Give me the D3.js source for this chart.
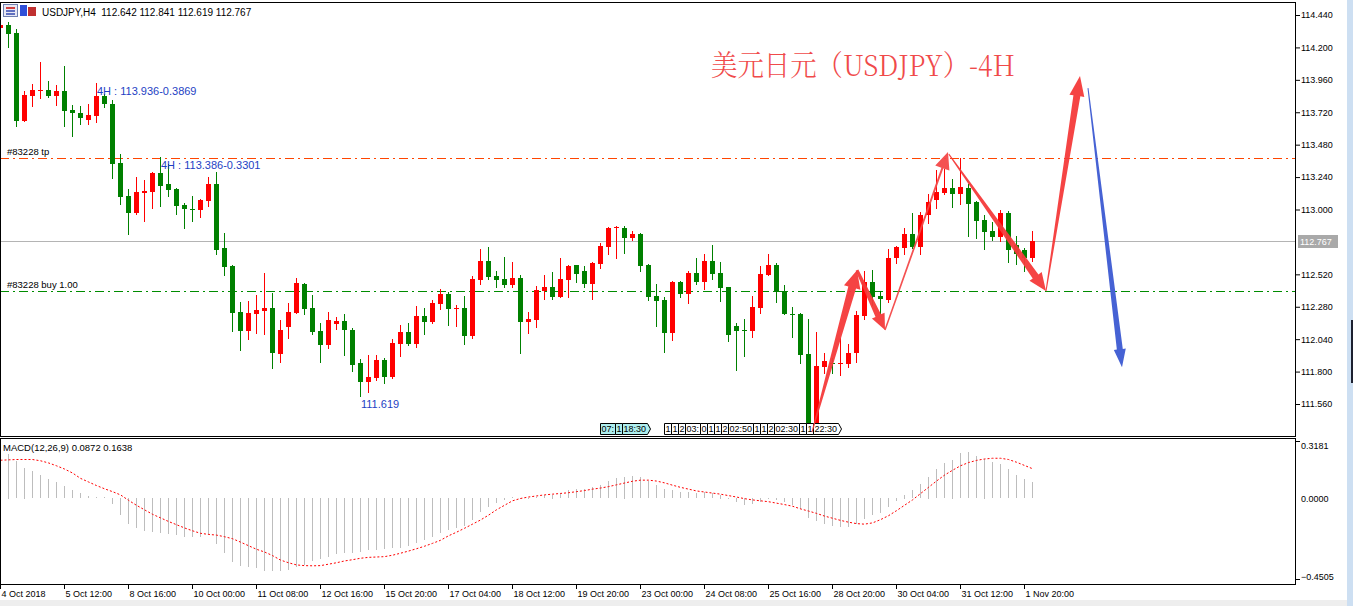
<!DOCTYPE html>
<html>
<head>
<meta charset="utf-8">
<script src="https://cdn.jsdelivr.net/npm/d3@7"></script>
<style>
body { margin: 0; background: #fff; overflow: hidden; }
svg { display: block; }
text { font-family: "Liberation Sans", Arial, sans-serif; }
</style>
</head>
<body>
<div class="canvas"></div>
<script>
// DATA ------------------------------------------------------------------------
// USDJPY H4 candles, one entry per bar (index 0 = left edge)
const opens = [114.346,114.366,114.304,113.655,113.842,113.875,113.884,113.842,113.877,113.734,113.714,113.665,113.694,113.840,113.781,113.344,113.097,112.973,113.124,113.131,
  113.270,113.188,113.154,113.033,113.005,113.000,113.065,113.188,112.712,112.581,112.240,112.102,112.230,112.250,112.270,111.931,112.131,112.235,112.450,112.270,
  112.099,111.996,112.149,112.173,112.109,111.862,111.724,111.754,111.884,111.761,112.005,112.092,112.001,112.210,112.168,112.302,112.373,112.262,112.270,112.060,
  112.477,112.618,112.507,112.484,112.442,112.492,112.168,112.183,112.398,112.425,112.351,112.477,112.588,112.544,112.450,112.598,112.724,112.860,112.862,112.791,
  112.818,112.588,112.359,112.329,112.087,112.462,112.376,112.529,112.465,112.618,112.529,112.425,112.136,112.109,112.102,112.270,112.517,112.588,112.400,112.230,
  112.225,111.929,111.383,111.833,111.865,111.857,111.855,111.939,112.213,112.462,112.359,112.329,112.638,112.717,112.815,112.719,112.956,113.070,113.124,113.156,
  113.114,113.161,113.055,112.922,112.840,112.798,112.973,112.736,112.699,112.642];
const highs = [114.390,114.386,114.334,113.877,113.930,114.094,113.954,113.921,114.065,113.773,113.768,113.778,113.936,113.857,113.808,113.408,113.151,113.238,113.220,113.280,
  113.386,113.334,113.159,113.045,113.099,113.075,113.242,113.275,112.825,112.588,112.312,112.324,112.366,112.531,112.383,112.183,112.309,112.492,112.455,112.366,
  112.163,112.242,112.205,112.225,112.119,111.894,111.921,111.921,111.902,112.040,112.144,112.158,112.284,112.270,112.329,112.410,112.391,112.292,112.358,112.507,
  112.707,112.721,112.544,112.650,112.610,112.514,112.242,112.433,112.514,112.536,112.640,112.588,112.592,112.581,112.610,112.751,112.870,112.880,112.880,112.840,
  112.825,112.598,112.450,112.351,112.472,112.472,112.544,112.640,112.672,112.736,112.610,112.428,112.161,112.186,112.361,112.581,112.672,112.603,112.440,112.277,
  112.233,112.188,112.094,111.939,111.897,112.045,112.001,112.247,112.544,112.549,112.393,112.707,112.731,112.865,112.971,112.983,113.114,113.292,113.299,113.225,
  113.378,113.186,113.062,112.959,112.907,112.993,112.986,112.805,112.717,112.841];
const lows = [114.330,114.205,113.620,113.655,113.768,113.828,113.835,113.773,113.620,113.546,113.635,113.635,113.645,113.761,113.235,113.042,112.815,112.963,112.917,113.013,
  113.028,113.102,112.968,112.860,112.917,112.946,113.028,112.672,112.517,112.104,111.963,112.038,112.082,112.075,111.823,111.872,112.045,112.235,112.228,112.075,
  111.872,111.976,112.112,111.926,111.808,111.619,111.650,111.739,111.717,111.754,111.917,111.996,111.981,112.079,112.161,112.265,112.146,112.139,112.005,112.050,
  112.445,112.489,112.427,112.427,112.427,111.939,112.089,112.131,112.339,112.334,112.351,112.351,112.462,112.427,112.339,112.568,112.672,112.642,112.679,112.776,
  112.546,112.329,112.139,111.946,112.035,112.354,112.309,112.450,112.410,112.489,112.324,112.028,111.813,111.917,112.057,112.235,112.517,112.317,112.228,112.057,
  111.860,111.378,111.378,111.793,111.793,111.773,111.835,111.872,112.188,112.292,112.235,112.317,112.605,112.667,112.717,112.672,112.897,113.013,113.114,113.018,
  113.040,112.805,112.791,112.709,112.773,112.768,112.610,112.593,112.546,112.619];
const closes = [114.366,114.302,113.655,113.847,113.882,113.884,113.842,113.877,113.729,113.717,113.680,113.699,113.840,113.778,113.339,113.094,112.976,113.129,113.136,113.270,
  113.176,113.146,113.028,113.005,112.993,113.067,113.188,112.702,112.576,112.235,112.102,112.233,112.257,112.270,111.939,112.109,112.240,112.457,112.267,112.094,
  111.996,112.181,112.173,112.107,111.852,111.724,111.759,111.884,111.761,112.010,112.092,112.005,112.210,112.168,112.307,112.371,112.265,112.272,112.065,112.484,
  112.618,112.499,112.479,112.442,112.492,112.168,112.188,112.403,112.425,112.351,112.484,112.581,112.524,112.450,112.603,112.731,112.862,112.870,112.791,112.818,
  112.583,112.354,112.324,112.087,112.465,112.376,112.529,112.465,112.618,112.524,112.420,112.070,112.102,112.104,112.277,112.524,112.588,112.391,112.228,112.220,
  111.921,111.398,111.840,111.877,111.855,111.865,111.941,112.218,112.465,112.354,112.334,112.638,112.721,112.815,112.719,112.956,113.057,113.126,113.156,113.117,
  113.163,113.042,112.917,112.835,112.798,112.973,112.699,112.667,112.638,112.767];

// MACD(12,26,9): main line (histogram) and signal line per bar
const macdMain = [0.265,0.248,0.206,0.170,0.150,0.128,0.106,0.089,0.067,0.044,0.028,0.011,0.007,0.004,-0.035,-0.094,-0.144,-0.169,-0.183,-0.191,
  -0.193,-0.200,-0.206,-0.215,-0.219,-0.217,-0.206,-0.254,-0.304,-0.354,-0.376,-0.383,-0.391,-0.409,-0.409,-0.409,-0.400,-0.385,-0.372,-0.350,
  -0.340,-0.330,-0.313,-0.307,-0.305,-0.300,-0.290,-0.288,-0.283,-0.280,-0.280,-0.270,-0.250,-0.235,-0.215,-0.195,-0.180,-0.165,-0.155,-0.120,
  -0.080,-0.050,-0.030,-0.010,0.005,0.000,-0.005,0.005,0.015,0.020,0.030,0.045,0.050,0.052,0.060,0.075,0.095,0.110,0.120,0.125,
  0.115,0.095,0.075,0.050,0.045,0.035,0.035,0.030,0.035,0.030,0.020,-0.005,-0.025,-0.040,-0.035,-0.020,-0.005,-0.010,-0.025,-0.040,
  -0.060,-0.110,-0.130,-0.145,-0.155,-0.160,-0.160,-0.145,-0.115,-0.095,-0.085,-0.050,-0.015,0.020,0.045,0.080,0.120,0.160,0.195,0.215,
  0.250,0.255,0.235,0.220,0.200,0.190,0.160,0.130,0.105,0.0872];
const macdSignal = [0.211,0.213,0.215,0.215,0.215,0.208,0.196,0.180,0.162,0.140,0.110,0.090,0.070,0.052,0.036,0.018,-0.012,-0.040,-0.065,-0.090,
  -0.110,-0.130,-0.148,-0.166,-0.182,-0.196,-0.202,-0.206,-0.215,-0.226,-0.245,-0.265,-0.285,-0.300,-0.320,-0.345,-0.360,-0.372,-0.376,-0.377,
  -0.376,-0.368,-0.360,-0.350,-0.343,-0.335,-0.330,-0.328,-0.326,-0.318,-0.307,-0.295,-0.282,-0.268,-0.252,-0.235,-0.210,-0.190,-0.168,-0.145,
  -0.122,-0.095,-0.065,-0.040,-0.015,-0.002,0.006,0.012,0.018,0.022,0.026,0.030,0.036,0.042,0.050,0.056,0.064,0.074,0.084,0.094,
  0.100,0.100,0.095,0.085,0.072,0.060,0.050,0.040,0.034,0.028,0.022,0.014,0.006,-0.003,-0.010,-0.015,-0.020,-0.028,-0.036,-0.045,
  -0.060,-0.072,-0.085,-0.100,-0.112,-0.124,-0.134,-0.142,-0.145,-0.138,-0.120,-0.098,-0.070,-0.040,-0.010,0.025,0.060,0.095,0.128,0.155,
  0.180,0.198,0.210,0.218,0.222,0.222,0.215,0.200,0.182,0.1638];

// axis ticks and labels
const priceTicks = [114.44, 114.20, 113.96, 113.72, 113.48, 113.24, 113.00, 112.52, 112.28, 112.04, 111.80, 111.56];
const macdTicks = [0.3181, 0.0, -0.4505];
const timeTickBars = [0, 8, 16, 24, 32, 40, 48, 56, 64, 72, 80, 88, 96, 104, 112, 120, 128];
const timeLabels = ['4 Oct 2018', '5 Oct 12:00', '8 Oct 16:00', '10 Oct 00:00', '11 Oct 08:00', '12 Oct 16:00',
  '15 Oct 20:00', '17 Oct 04:00', '18 Oct 12:00', '19 Oct 20:00', '23 Oct 00:00', '24 Oct 08:00',
  '25 Oct 16:00', '28 Oct 20:00', '30 Oct 04:00', '31 Oct 12:00', '1 Nov 20:00'];

// price levels
const lastPrice = 112.767;
const tpPrice = 113.380;
const buyPrice = 112.400;

// drawn arrows [bar, price] start -> end
const arrowStarts = [[101.5, 111.351], [107.125, 112.551], [110.625, 112.107], [118.6, 113.410], [130.75, 112.396], [136.0, 113.899]];
const arrowEnds = [[107.125, 112.551], [110.625, 112.107], [118.5, 113.425], [130.75, 112.396], [135.0, 113.988], [140.25, 111.833]];

// calendar event markers above the time axis
const eventsCyan = ['07:', '1', '18:30'];
const eventsWhite = ['1', '1', '2', '03:', '0', '1', '1', '2', '02:50', '1', '1', '2', '02:30', '1', '1', '22:30'];

// SET UP ----------------------------------------------------------------------
const W = 1353, H = 606;
const plotRight = 1295;
const svg = d3.select('.canvas')
    .append('svg')
        .attr('width', W)
        .attr('height', H);

svg.append('rect').attr('width', W).attr('height', H).attr('fill', '#fff');

// scales
const x = d3.scaleLinear().domain([0, 1]).range([0, 8]);                 // bar index -> px
const y = d3.scaleLinear().domain([111.56, 114.44]).range([404, 15]);     // price -> px
const yM = d3.scaleLinear().domain([-0.4505, 0.3181]).range([579, 441]);  // macd -> px

const defs = svg.append('defs');
defs.append('clipPath').attr('id', 'mainClip')
    .append('rect').attr('x', 1).attr('y', 3).attr('width', plotRight - 1).attr('height', 433);
defs.append('clipPath').attr('id', 'macdClip')
    .append('rect').attr('x', 1).attr('y', 439).attr('width', plotRight - 1).attr('height', 145);

const main = svg.append('g').attr('clip-path', 'url(#mainClip)');
const macd = svg.append('g').attr('clip-path', 'url(#macdClip)');

// LEVEL LINES -----------------------------------------------------------------
const hline = (g, price, color, dash) => g.append('line')
    .attr('x1', 0).attr('x2', plotRight)
    .attr('y1', Math.round(y(price)) + 0.5).attr('y2', Math.round(y(price)) + 0.5)
    .attr('stroke', color).attr('stroke-width', 1)
    .attr('stroke-dasharray', dash);

hline(main, lastPrice, '#b4b4b4', null);
hline(main, tpPrice, '#ff4500', '9,4,2,4');
hline(main, buyPrice, '#008c00', '9,4,2,4');

main.append('text').attr('x', 7).attr('y', Math.round(y(tpPrice)) - 3)
    .text('#83228 tp').style('font-size', '9.5px').attr('fill', '#000');
main.append('text').attr('x', 7).attr('y', Math.round(y(buyPrice)) - 3)
    .text('#83228 buy 1.00').style('font-size', '9.5px').attr('fill', '#000');

// CANDLES ---------------------------------------------------------------------
const bars = d3.range(opens.length);
const upCol = '#ff0000', downCol = '#008000';
const colOf = i => closes[i] >= opens[i] ? upCol : downCol;

main.selectAll('rect.wick').data(bars).join('rect')
    .attr('class', 'wick')
    .attr('x', i => Math.round(x(i)))
    .attr('width', 1)
    .attr('y', i => Math.round(y(highs[i])))
    .attr('height', i => Math.round(y(lows[i])) - Math.round(y(highs[i])) + 1)
    .attr('fill', colOf);

main.selectAll('rect.body').data(bars).join('rect')
    .attr('class', 'body')
    .attr('x', i => Math.round(x(i)) - 2)
    .attr('width', 5)
    .attr('y', i => Math.round(y(Math.max(opens[i], closes[i]))))
    .attr('height', i => Math.max(1, Math.round(y(Math.min(opens[i], closes[i]))) - Math.round(y(Math.max(opens[i], closes[i])))))
    .attr('fill', colOf);

// high / low notes
const blue = '#1e3fc4';
const hiA = 12, hiB = 20, loBar = 45;
main.append('text').attr('x', x(hiA) + 1).attr('y', y(highs[hiA]) + 12)
    .text('4H : ' + highs[hiA].toFixed(3) + '-0.3869').style('font-size', '11px').attr('fill', blue);
main.append('text').attr('x', x(hiB) + 1).attr('y', y(highs[hiB]) + 12)
    .text('4H : ' + highs[hiB].toFixed(3) + '-0.3301').style('font-size', '11px').attr('fill', blue);
main.append('text').attr('x', x(loBar) + 1).attr('y', y(lows[loBar]) + 12)
    .text(lows[loBar].toFixed(3)).style('font-size', '11px').attr('fill', blue);

// EVENT MARKERS ---------------------------------------------------------------
const drawEvents = (labels, startX, fill) => {
    let cx = startX;
    labels.forEach((t, k) => {
        const g = main.append('g');
        const txt = g.append('text').attr('x', cx + 1.5).attr('y', 432)
            .text(t).style('font-size', '9px').attr('fill', '#000');
        const w = Math.round(txt.node().getComputedTextLength() + 2);
        const last = k === labels.length - 1;
        const pts = last
            ? [[cx, 423], [cx + w, 423], [cx + w + 3, 428.5], [cx + w, 434], [cx, 434]]
            : [[cx, 423], [cx + w, 423], [cx + w, 434], [cx, 434]];
        g.insert('polygon', 'text')
            .attr('points', pts.map(p => [p[0] + 0.5, p[1] + 0.5].join(',')).join(' '))
            .attr('fill', fill).attr('stroke', '#000').attr('stroke-width', 1);
        cx += w;
    });
};
drawEvents(eventsCyan, 600, '#aeeeee');
drawEvents(eventsWhite, 664, '#ffffff');

// ARROWS ----------------------------------------------------------------------
const arrowStyle = [
    {w0: 1, w1: 8, hl: 18, hw: 17, c: '#f43a3a'},
    {w0: 3, w1: 6, hl: 16, hw: 14, c: '#f43a3a'},
    {w0: 1.5, w1: 2, hl: 17, hw: 15, c: '#f34848'},
    {w0: 1, w1: 7, hl: 18, hw: 15, c: '#f43a3a'},
    {w0: 1, w1: 7, hl: 20, hw: 15, c: '#f43a3a'},
    {w0: 1, w1: 6, hl: 18, hw: 12, c: '#3c5ad2'}
];
const arrowPoints = (a, b, s) => {
    const dx = b[0] - a[0], dy = b[1] - a[1], L = Math.hypot(dx, dy);
    const ux = dx / L, uy = dy / L, nx = -uy, ny = ux;
    const bx = b[0] - ux * s.hl, by = b[1] - uy * s.hl;
    return [
        [a[0] + nx * s.w0 / 2, a[1] + ny * s.w0 / 2],
        [bx + nx * s.w1 / 2, by + ny * s.w1 / 2],
        [bx + nx * s.hw / 2, by + ny * s.hw / 2],
        [b[0], b[1]],
        [bx - nx * s.hw / 2, by - ny * s.hw / 2],
        [bx - nx * s.w1 / 2, by - ny * s.w1 / 2],
        [a[0] - nx * s.w0 / 2, a[1] - ny * s.w0 / 2]
    ];
};
main.selectAll('polygon.arrow').data(arrowStarts).join('polygon')
    .attr('class', 'arrow')
    .attr('points', (d, k) => arrowPoints(
            [x(d[0]), y(d[1])], [x(arrowEnds[k][0]), y(arrowEnds[k][1])], arrowStyle[k])
        .map(p => p.join(',')).join(' '))
    .attr('fill', (d, k) => arrowStyle[k].c)
    .attr('fill-opacity', 0.95);

// TITLE -----------------------------------------------------------------------
svg.append('text')
    .attr('x', 711).attr('y', 76)
    .attr('textLength', 304).attr('lengthAdjust', 'spacingAndGlyphs')
    .text('美元日元（USDJPY）-4H')
    .style('font-family', '"Noto Serif CJK SC", "Noto Sans CJK SC", serif')
    .style('font-size', '29px')
    .style('font-weight', 300)
    .attr('fill', '#f04a4a');

// MACD ------------------------------------------------------------------------
macd.selectAll('rect.hist').data(macdMain).join('rect')
    .attr('class', 'hist')
    .attr('x', (d, i) => Math.round(x(i)))
    .attr('width', 1)
    .attr('y', d => Math.round(Math.min(yM(d), yM(0))))
    .attr('height', d => Math.max(1, Math.round(Math.abs(yM(d) - yM(0)))))
    .attr('fill', '#bdbdbd');

macd.append('path')
    .datum(macdSignal)
    .attr('d', d3.line().x((d, i) => x(i) + 0.5).y(d => yM(d)))
    .attr('fill', 'none')
    .attr('stroke', '#ff0000')
    .attr('stroke-width', 1)
    .attr('stroke-dasharray', '2,2');

svg.append('text').attr('x', 3).attr('y', 451)
    .text('MACD(12,26,9) ' + macdMain[macdMain.length - 1].toFixed(4) + ' ' + macdSignal[macdSignal.length - 1].toFixed(4))
    .style('font-size', '9.5px').attr('fill', '#000');

// FRAMES ----------------------------------------------------------------------
svg.append('rect').attr('x', 0.5).attr('y', 2.5).attr('width', plotRight).attr('height', 434)
    .attr('fill', 'none').attr('stroke', '#000');
svg.append('rect').attr('x', 0.5).attr('y', 438.5).attr('width', plotRight).attr('height', 146)
    .attr('fill', 'none').attr('stroke', '#000');

// AXES ------------------------------------------------------------------------
const yAxisGroup = svg.append('g').attr('transform', `translate(${plotRight}, 0)`);
yAxisGroup.call(d3.axisRight(y).tickValues(priceTicks).tickFormat(d3.format('.3f')).tickSize(5).tickPadding(1));

const mAxisGroup = svg.append('g').attr('transform', `translate(${plotRight}, 0)`);
mAxisGroup.call(d3.axisRight(yM).tickValues(macdTicks).tickFormat(d3.format('.4f')).tickSize(5).tickPadding(1));
mAxisGroup.selectAll('.tick').filter(d => d === 0).select('line').remove();
mAxisGroup.selectAll('.tick').filter(d => d > 0).select('text').attr('dy', '0.85em');
mAxisGroup.selectAll('.tick').filter(d => d < 0).select('text').attr('dy', '0em');

const xAxisGroup = svg.append('g').attr('transform', 'translate(0, 584)');
xAxisGroup.call(d3.axisBottom(x).tickValues(timeTickBars).tickFormat((d, k) => timeLabels[k]).tickSize(5).tickPadding(2));
xAxisGroup.selectAll('text').attr('text-anchor', 'start').attr('dx', 1);

[yAxisGroup, mAxisGroup, xAxisGroup].forEach(g => {
    g.select('.domain').remove();
    g.selectAll('text').style('font', '9px "Liberation Sans", Arial, sans-serif').attr('fill', '#000');
    g.selectAll('line').attr('stroke', '#000');
});

// current price tag
const yl = Math.round(y(lastPrice));
svg.append('rect').attr('x', 1298).attr('y', yl - 6).attr('width', 40).attr('height', 13).attr('fill', '#a9a9a9');
svg.append('text').attr('x', 1300).attr('y', yl + 4)
    .text(lastPrice.toFixed(3)).style('font-size', '9px').attr('fill', '#fff');

// HEADER ----------------------------------------------------------------------
svg.append('rect').attr('x', 3.5).attr('y', 4.5).attr('width', 14).attr('height', 12).attr('fill', '#e8e8f4').attr('stroke', '#7080b0');
[7, 10, 13].forEach(r => svg.append('rect').attr('x', 6).attr('y', r).attr('width', 9).attr('height', 2).attr('fill', r === 7 ? '#d04040' : '#6070c0'));
svg.append('rect').attr('x', 20).attr('y', 5).attr('width', 7).attr('height', 11).attr('fill', '#2f4fd8');
svg.append('rect').attr('x', 28).attr('y', 7).attr('width', 8).attr('height', 9).attr('fill', '#c03030');
svg.append('text').attr('x', 42).attr('y', 16)
    .style('white-space', 'pre').style('font-size', '10px').attr('fill', '#000')
    .text(`USDJPY,H4  ${opens[opens.length - 1].toFixed(3)} ${highs[highs.length - 1].toFixed(3)} ${lows[lows.length - 1].toFixed(3)} ${closes[closes.length - 1].toFixed(3)}`);

// window edges
svg.append('rect').attr('x', 1347).attr('y', 0).attr('width', 6).attr('height', H).attr('fill', '#cddff2');
svg.append('rect').attr('x', 1351).attr('y', 320).attr('width', 2).attr('height', 63).attr('fill', '#1c2030');
svg.append('rect').attr('x', 0).attr('y', 600).attr('width', 1347).attr('height', 6).attr('fill', '#eeeeee');
</script>
</body>
</html>
